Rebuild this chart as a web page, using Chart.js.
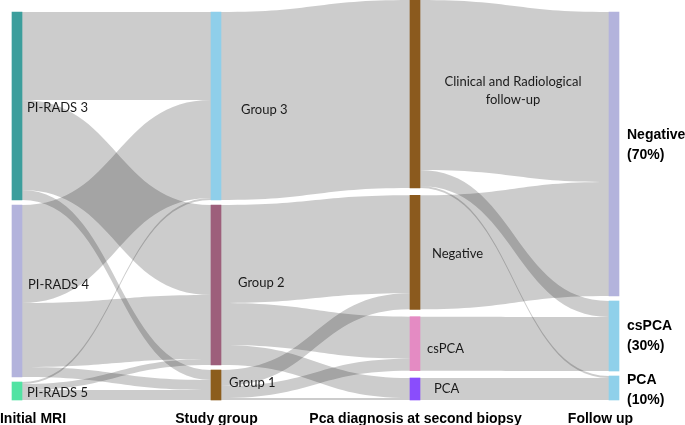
<!DOCTYPE html>
<html>
<head>
<meta charset="utf-8">
<script src="https://cdn.jsdelivr.net/npm/chart.js@4.4.1/dist/chart.umd.min.js"></script>
<style>
  html, body { margin: 0; padding: 0; background: #fff; }
</style>
</head>
<body>
<canvas id="sankey" width="685" height="425"></canvas>
<script>
// data
const columnTitles = ["Initial MRI", "Study group", "Pca diagnosis at second biopsy", "Follow up"];
const nodeLabels = ["PI-RADS 3", "PI-RADS 4", "PI-RADS 5",
  "Group 3", "Group 2", "Group 1",
  "Clinical and Radiological\nfollow-up", "Negative", "csPCA", "PCA",
  "Negative\n(70%)", "csPCA\n(30%)", "PCA\n(10%)"];
const nodeColumn = [0, 0, 0, 1, 1, 1, 2, 2, 2, 2, 3, 3, 3];
const linkSource = [0, 0, 0, 1, 1, 1, 2, 2, 2, 3, 4, 4, 4, 5, 5, 5, 6, 6, 6, 7, 8, 9];
const linkTarget = [3, 4, 5, 3, 4, 5, 3, 4, 5, 6, 7, 8, 9, 7, 8, 9, 10, 11, 12, 10, 11, 12];
const linkValue = [44, 45, 5, 49, 32, 5, 1, 3, 5, 94, 49, 21, 10, 8, 6, 1, 85, 8, 1, 57, 27, 11];

// styles / layout
const nodeColors = ["#3c9e9c", "#b3b3dc", "#52e3a3", "#8fcfea", "#9d5f7b", "#8c5d1c",
  "#8b5a1e", "#8b5a1e", "#e48bc3", "#8a4dfc", "#b3b3dc", "#8fd0ea", "#8fd0ea"];
const NODE_W = 10;
const Y_MAX = 200;
const COL_TOP = [6, 6, 0, 6];
const COL_GAP = [2.5, 2.5, 11 / 3, 2.5];
// [align, dx from node right edge, dy from node middle]
const labelPlace = [
  ["left", 5, 2], ["left", 6, -6], ["left", 5, 2],
  ["left", 20, 4], ["left", 17, -2], ["left", 8, -2],
  ["center", 93, -3], ["left", 12, 1], ["left", 7, 5], ["left", 14, 0],
  ["left", 8, -9], ["left", 8, 0], ["left", 8, 2]
];
const titleDx = [16, 0.5, 0.5, -13.5];

// node sizes = max(in, out), stacked per column
const inSum = nodeLabels.map(() => 0);
const outSum = nodeLabels.map(() => 0);
linkValue.forEach((v, i) => {
  outSum[linkSource[i]] += v;
  inSum[linkTarget[i]] += v;
});
const nodeTop = [], nodeBottom = [];
const cursor = COL_TOP.slice();
nodeLabels.forEach((_, i) => {
  const c = nodeColumn[i];
  nodeTop[i] = cursor[c];
  nodeBottom[i] = cursor[c] + Math.max(inSum[i], outSum[i]);
  cursor[c] = nodeBottom[i] + COL_GAP[c];
});

// where each link leaves / enters its nodes
const linkIdx = linkValue.map((_, i) => i);
const srcTop = [], tgtTop = [];
nodeLabels.forEach((_, n) => {
  let y = nodeTop[n];
  linkIdx.filter(i => linkSource[i] === n)
    .sort((a, b) => nodeTop[linkTarget[a]] - nodeTop[linkTarget[b]])
    .forEach(i => { srcTop[i] = y; y += linkValue[i]; });
  y = nodeTop[n];
  linkIdx.filter(i => linkTarget[i] === n)
    .sort((a, b) => nodeTop[linkSource[a]] - nodeTop[linkSource[b]])
    .forEach(i => { tgtTop[i] = y; y += linkValue[i]; });
});

const sankeyPlugin = {
  id: "sankeyLinks",
  beforeDatasetsDraw(chart) {
    const { ctx, scales: { x, y } } = chart;
    ctx.save();
    ctx.fillStyle = "rgba(0,0,0,0.2)";
    linkValue.forEach((v, i) => {
      const x0 = x.getPixelForValue(nodeColumn[linkSource[i]]) + NODE_W / 2;
      const x1 = x.getPixelForValue(nodeColumn[linkTarget[i]]) - NODE_W / 2;
      const xm = (x0 + x1) / 2;
      const s0 = y.getPixelForValue(srcTop[i]), s1 = y.getPixelForValue(srcTop[i] + v);
      const t0 = y.getPixelForValue(tgtTop[i]), t1 = y.getPixelForValue(tgtTop[i] + v);
      ctx.beginPath();
      ctx.moveTo(x0, s0);
      ctx.bezierCurveTo(xm, s0, xm, t0, x1, t0);
      ctx.lineTo(x1, t1);
      ctx.bezierCurveTo(xm, t1, xm, s1, x0, s1);
      ctx.closePath();
      ctx.fill();
    });
    ctx.restore();
  },
  afterDatasetsDraw(chart) {
    const { ctx, scales: { x, y }, chartArea } = chart;
    ctx.save();
    ctx.textBaseline = "middle";
    nodeLabels.forEach((label, i) => {
      const [align, dx, dy] = labelPlace[i];
      const bold = nodeColumn[i] === 3;
      ctx.font = bold ? "bold 14px Arial, 'Liberation Sans', sans-serif" : "13px Lato, 'Open Sans', sans-serif";
      ctx.fillStyle = bold ? "#000" : "#1a1a1a";
      ctx.textAlign = align;
      const lines = label.split("\n");
      const lh = bold ? 20 : 18;
      const xp = x.getPixelForValue(nodeColumn[i]) + NODE_W / 2 + dx;
      const mid = (y.getPixelForValue(nodeTop[i]) + y.getPixelForValue(nodeBottom[i])) / 2 + dy;
      lines.forEach((ln, k) => {
        ctx.fillText(ln, xp, mid + (k - (lines.length - 1) / 2) * lh);
      });
    });
    ctx.font = "bold 14px Arial, 'Liberation Sans', sans-serif";
    ctx.fillStyle = "#000";
    ctx.textAlign = "center";
    ctx.textBaseline = "alphabetic";
    columnTitles.forEach((t, c) => {
      ctx.fillText(t, x.getPixelForValue(c) + titleDx[c], chartArea.bottom + 23);
    });
    ctx.restore();
  }
};

new Chart(document.getElementById("sankey"), {
  type: "bar",
  data: {
    datasets: [{
      data: nodeLabels.map((_, i) => ({ x: nodeColumn[i], y: [nodeTop[i], nodeBottom[i]] })),
      backgroundColor: nodeColors,
      barThickness: NODE_W,
      borderWidth: 0,
      clip: false
    }]
  },
  options: {
    responsive: false,
    devicePixelRatio: 1,
    animation: false,
    layout: { padding: { left: 17, right: 71, top: 0, bottom: 25 } },
    scales: {
      x: { type: "linear", min: 0, max: 3, offset: false, display: false },
      y: { type: "linear", min: 0, max: Y_MAX, reverse: true, display: false }
    },
    plugins: { legend: { display: false }, tooltip: { enabled: false } }
  },
  plugins: [sankeyPlugin]
});
</script>
</body>
</html>
